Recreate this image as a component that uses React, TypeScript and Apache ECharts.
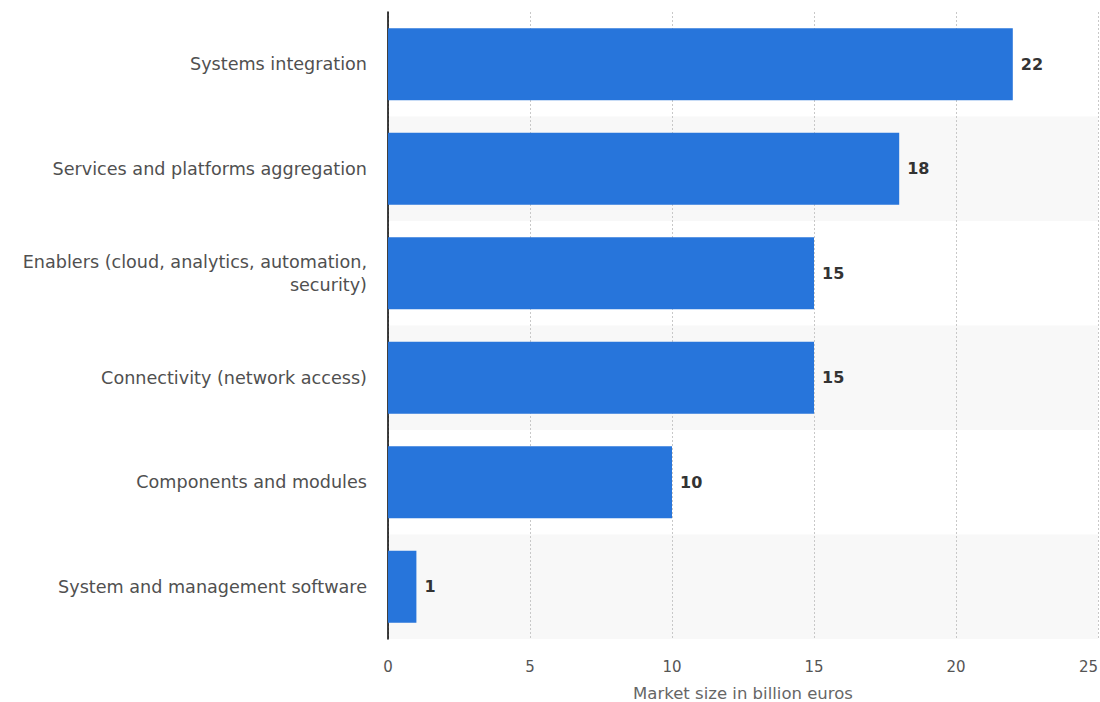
import React, { useEffect, useRef } from "react";
import * as echarts from "echarts";

const categories = [
  "Systems integration",
  "Services and platforms aggregation",
  "Enablers (cloud, analytics, automation,\nsecurity)",
  "Connectivity (network access)",
  "Components and modules",
  "System and management software",
];
const values = [22, 18, 15, 15, 10, 1];
const axisTitle = "Market size in billion euros";

export default function App() {
  const ref = useRef<HTMLDivElement>(null);
  useEffect(() => {
    const chart = echarts.init(ref.current!, null, { renderer: "svg" });
    chart.setOption({
      animation: false,
      textStyle: { fontFamily: "DejaVu Sans" },
      grid: { left: 388, right: 2, top: 12, bottom: 63, containLabel: false, outerBoundsMode: "none" },
      xAxis: {
        type: "value",
        min: 0,
        max: 25,
        interval: 5,
        name: axisTitle,
        nameLocation: "middle",
        nameGap: 46,
        nameTextStyle: { color: "#666", fontSize: 16.5 },
        axisLine: { show: false },
        axisTick: { show: false },
        axisLabel: { color: "#555", fontSize: 15, margin: 20, alignMaxLabel: "right" },
        splitLine: { show: true, lineStyle: { color: "#c8c8c8", type: [2, 2], width: 1 } },
      },
      yAxis: {
        type: "category",
        data: categories,
        inverse: true,
        axisLine: { show: true, lineStyle: { color: "#000", width: 1.5 } },
        axisTick: { show: false },
        axisLabel: { color: "#505050", fontSize: 17.6, margin: 21, lineHeight: 23, align: "right" },
        splitLine: { show: false },
        splitArea: { show: true, areaStyle: { color: ["#ffffff", "#f8f8f8"] } },
      },
      series: [
        {
          type: "bar",
          data: values,
          barCategoryGap: "31%",
          itemStyle: { color: "#2775db" },
          label: {
            show: true,
            position: "right",
            distance: 8,
            color: "#333",
            fontWeight: "bold",
            fontSize: 16,
          },
        },
      ],
    });
    return () => chart.dispose();
  }, []);
  return <div ref={ref} style={{ width: 1100, height: 702, position: "absolute", left: 0, top: 0 }} />;
}
